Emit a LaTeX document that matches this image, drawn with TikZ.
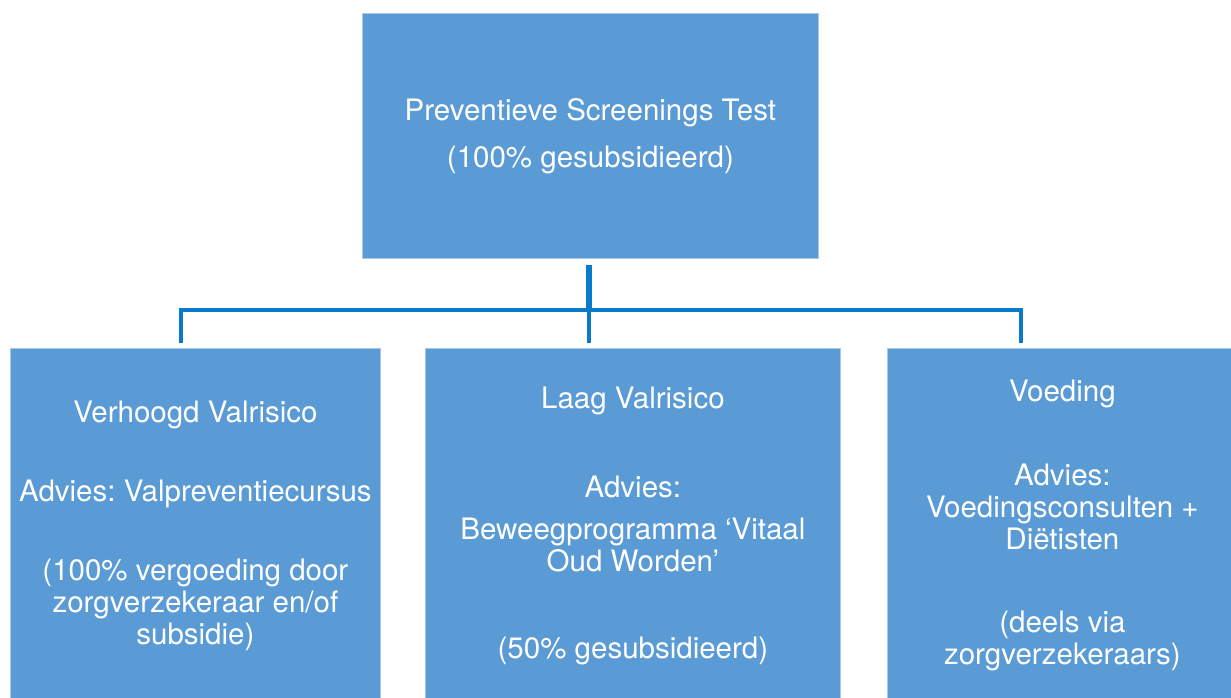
\documentclass[tikz,border=0pt]{standalone}
\usepackage{fontspec}
\setmainfont{TeX Gyre Heros}
\usetikzlibrary{calc}
\definecolor{boxblue}{HTML}{5B9BD5}
\definecolor{boxedge}{HTML}{A9C8EA}
\definecolor{linkblue}{HTML}{0A7BCB}
\frenchspacing
\begin{document}
\begin{tikzpicture}[x=1pt,y=-1pt,
  box/.style={fill=boxblue, draw=boxedge, line width=0.8pt, text=white, align=center,
    inner sep=0pt, font=\fontsize{29.5}{32}\selectfont, anchor=north west},
  conn/.style={draw=linkblue, line width=4.5pt}]
\clip (0,0) rectangle (1231,697);
\node[box, minimum width=456, minimum height=245] (top) at (362,13)
  {Preventieve Screenings Test\\[15pt](100\% gesubsidieerd)};
\node[box, minimum width=370, minimum height=355] (b1) at (10,348)
  {Verhoogd Valrisico\\[47pt]Advies: Valpreventiecursus\\[47pt](100\% vergoeding door\\zorgverzekeraar en/of\\subsidie)};
\node[box, minimum width=415, minimum height=355] (b2) at (425,348)
  {Laag Valrisico\\[57pt]Advies:\\[10pt]Beweegprogramma ‘Vitaal\\Oud Worden’\\[55pt](50\% gesubsidieerd)};
\node[box, minimum width=350, minimum height=355] (b3) at (887,348)
  {Voeding\\[52pt]Advies:\\Voedingsconsulten +\\Diëtisten\\[51pt](deels via\\zorgverzekeraars)};
\coordinate (j) at (589,310);
\coordinate (bl) at (181,310);
\coordinate (br) at (1021,310);
\draw[conn, line width=5.5pt, shorten <=6pt] (top.south -| j) -- (j);
\draw[conn, shorten <=5pt, shorten >=5pt] (bl |- b1.north) -- (bl) -- (br) -- (br |- b3.north);
\draw[conn, line width=4pt, shorten >=5pt] (j) -- (j |- b2.north);
\end{tikzpicture}
\end{document}
